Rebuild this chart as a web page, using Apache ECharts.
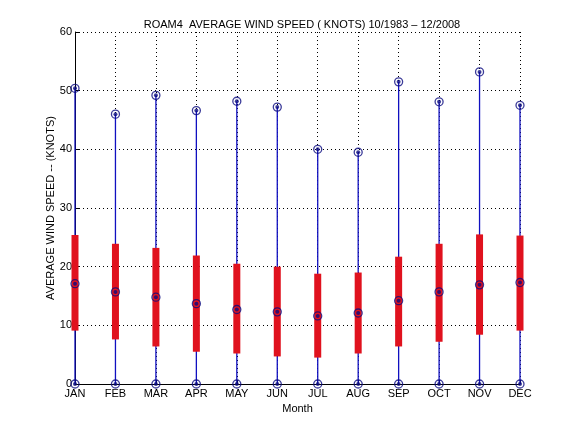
<!DOCTYPE html>
<html><head><meta charset="utf-8">
<script src="https://cdn.jsdelivr.net/npm/echarts@6/dist/echarts.min.js"></script>
<style>html,body{margin:0;padding:0;background:#fff}#c{width:576px;height:432px}</style>
</head><body><div id="c"></div>
<script>
var months = ['JAN','FEB','MAR','APR','MAY','JUN','JUL','AUG','SEP','OCT','NOV','DEC'];
var minVals = [0,0,0,0,0,0,0,0,0,0,0,0];
var maxVals = [50.4,46.0,49.2,46.6,48.2,47.2,40.0,39.5,51.5,48.1,53.2,47.5];
var meanVals = [17.1,15.7,14.8,13.7,12.7,12.3,11.6,12.1,14.2,15.7,16.9,17.3];
var lowVals = [9.1,7.6,6.4,5.5,5.2,4.7,4.5,5.2,6.4,7.2,8.4,9.1];
var highVals = [25.4,23.9,23.2,21.9,20.5,20.0,18.8,19.0,21.7,23.9,25.5,25.3];
var yTicks = [0,10,20,30,40,50,60];

var FONT = 'Liberation Sans, Arial, sans-serif';
var stemData = months.map(function(m,i){return [i, minVals[i], maxVals[i]];});
var boxData = months.map(function(m,i){return [i, lowVals[i], highVals[i]];});
var markerData = [];
months.forEach(function(m,i){
  markerData.push([i, minVals[i]]);
  markerData.push([i, meanVals[i]]);
  markerData.push([i, maxVals[i]]);
});

var chart = echarts.init(document.getElementById('c'), null, {renderer:'canvas'});
chart.setOption({
  backgroundColor:'#fff',
  animation:false,
  title:{
    text:'ROAM4  AVERAGE WIND SPEED ( KNOTS) 10/1983 \u2013 12/2008',
    left:297, top:14, textAlign:'center',
    textStyle:{fontFamily:FONT, fontSize:11, fontWeight:'normal', color:'#000'}
  },
  grid:{left:75, right:56, top:32, bottom:48, containLabel:false},
  xAxis:{
    type:'category', data:months, boundaryGap:false,
    name:'Month', nameLocation:'middle', nameGap:15,
    nameTextStyle:{fontFamily:FONT, fontSize:11, color:'#000'},
    axisLine:{show:true, lineStyle:{color:'#000', width:1}},
    axisTick:{show:true, inside:true, length:4, lineStyle:{color:'#000'}},
    axisLabel:{fontFamily:FONT, fontSize:11, color:'#000', margin:4, interval:0},
    splitLine:{show:true, lineStyle:{color:'#000', type:[1,3], width:1}}
  },
  yAxis:{
    type:'value', min:0, max:60, interval:10,
    name:'AVERAGE WIND SPEED -- (KNOTS)', nameLocation:'middle', nameGap:19,
    nameMoveOverlap:false,
    nameTextStyle:{fontFamily:FONT, fontSize:11, color:'#000'},
    axisLine:{show:true, lineStyle:{color:'#000', width:1}},
    axisTick:{show:true, inside:true, length:4, lineStyle:{color:'#000'}},
    axisLabel:{fontFamily:FONT, fontSize:11, color:'#000', margin:3,
      formatter:function(v){return yTicks.indexOf(v)>=0 ? String(v) : '';}},
    splitLine:{show:true, lineStyle:{color:'#000', type:[1,3], width:1}}
  },
  series:[
    {
      type:'custom', data:stemData, z:2,
      renderItem:function(params, api){
        var a = api.coord([api.value(0), api.value(1)]);
        var b = api.coord([api.value(0), api.value(2)]);
        return {type:'line', shape:{x1:a[0], y1:a[1], x2:b[0], y2:b[1]},
          style:{stroke:'#1010c0', lineWidth:1.3}};
      }
    },
    {
      type:'custom', data:boxData, z:3,
      renderItem:function(params, api){
        var a = api.coord([api.value(0), api.value(1)]);
        var b = api.coord([api.value(0), api.value(2)]);
        return {type:'rect', shape:{x:a[0]-3.5, y:b[1], width:7, height:a[1]-b[1]},
          style:{fill:'#e0121e'}};
      }
    },
    {
      type:'scatter', data:markerData, z:5, symbol:'circle', symbolSize:8,
      itemStyle:{color:'rgba(0,0,0,0)', borderColor:'#0a0a80', borderWidth:1.3}
    },
    {
      type:'scatter', data:markerData, z:6, symbol:'circle', symbolSize:4,
      itemStyle:{color:'#0a0a80'}
    }
  ]
});
</script></body></html>
